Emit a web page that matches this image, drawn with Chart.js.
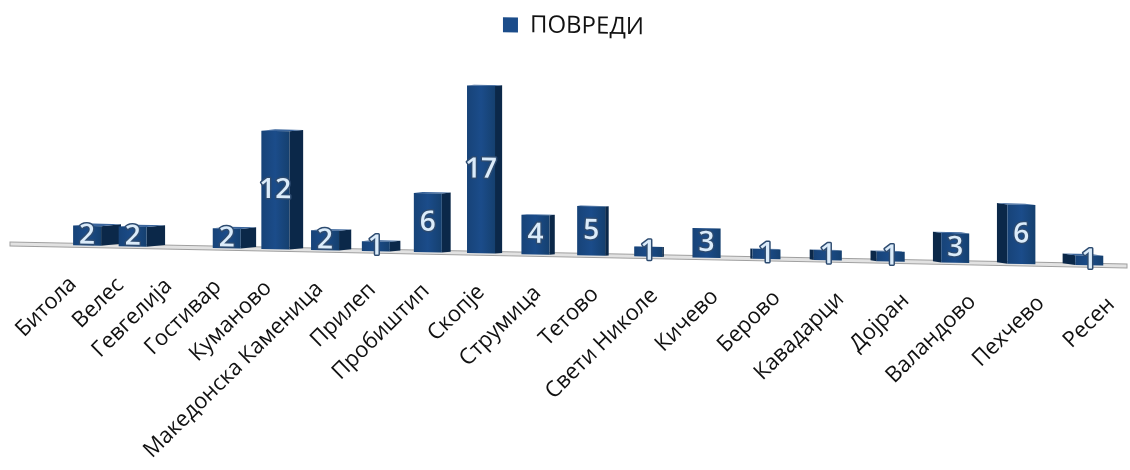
<!DOCTYPE html>
<html>
<head>
<meta charset="utf-8">
<title>ПОВРЕДИ</title>
<script src="https://cdn.jsdelivr.net/npm/chart.js@4.4.1/dist/chart.umd.min.js"></script>
<style>
  html, body { margin: 0; padding: 0; background: #ffffff; }
  #wrap { width: 1130px; height: 470px; }
</style>
</head>
<body>
<div id="wrap"><canvas id="myChart" width="1130" height="470"></canvas></div>
<script>
// data
var cities = ['Битола', 'Велес', 'Гевгелија', 'Гостивар', 'Куманово', 'Македонска Каменица',
              'Прилеп', 'Пробиштип', 'Скопје', 'Струмица', 'Тетово', 'Свети Николе',
              'Кичево', 'Берово', 'Кавадарци', 'Дојран', 'Валандово', 'Пехчево', 'Ресен'];
var injuries = [2, 2, null, 2, 12, 2, 1, 6, 17, 4, 5, 1, 3, 1, 1, 1, 3, 6, 1];
var seriesName = 'ПОВРЕДИ';

var frontColor = '#1b4c8a';
var sideColor = '#0b2849';
var tilt = 0.0197;       // floor slope (fake perspective)
var vanish = 0.6;        // vanishing point, share of plot width
var depthRate = 0.033;   // side face depth per px from vanishing point

// category scale with a bit of perspective: slots get wider to the right
class PerspectiveScale extends Chart.CategoryScale {
    getPixelForDecimal(decimal) {
        var k = this.options.warp || 0;
        var w = decimal * (1 + k) / (1 + k * decimal);
        var px = super.getPixelForDecimal(w);
        var vp = this.left + (this.right - this.left) * vanish;
        return vp + (px - vp) * (this.options.spread || 1);
    }
}
PerspectiveScale.id = 'perspective';
PerspectiveScale.defaults = Chart.CategoryScale.defaults;
Chart.register(PerspectiveScale);

// FUNCTION: shear the whole drawing so the floor runs downhill to the right
var tiltPlugin = {
    id: 'tilt',
    beforeDraw: function(chart) {
        var ctx = chart.ctx;
        ctx.save();
        ctx.transform(1, tilt, 0, 1, 0, -tilt * chart.width / 2);
    },
    afterDraw: function(chart) {
        chart.ctx.restore();
    }
};

// FUNCTION: draw floor, 3d boxes and value labels instead of flat bars
var boxPlugin = {
    id: 'box3d',
    beforeDatasetsDraw: function(chart) {
        var ctx = chart.ctx;
        var area = chart.chartArea;
        var vx = area.left + (area.right - area.left) * vanish;

        // floor plate
        ctx.save();
        ctx.fillStyle = '#e2e2e2';
        ctx.strokeStyle = '#a0a0a0';
        ctx.lineWidth = 1;
        ctx.beginPath();
        ctx.moveTo(area.left - 65, area.bottom - 2);
        ctx.lineTo(area.right + 10, area.bottom - 2);
        ctx.lineTo(area.right + 10, area.bottom + 2);
        ctx.lineTo(area.left - 65, area.bottom + 2);
        ctx.closePath();
        ctx.fill();
        ctx.stroke();

        var meta = chart.getDatasetMeta(0);
        var boxes = [];
        meta.data.forEach(function(bar, i) {
            if (injuries[i] == null) return;
            var p = bar.getProps(['x', 'y', 'base', 'width'], true);
            var d = (vx - p.x) * depthRate;
            var ad = Math.abs(d);
            var left = p.x - (p.width + ad) / 2;
            var fx = d > 0 ? left : left + ad;
            var sx0 = d > 0 ? left + p.width : left + ad;
            var sx1 = d > 0 ? left + p.width + ad : left;
            var lift = ad * 0.12;

            // side face
            ctx.fillStyle = sideColor;
            ctx.beginPath();
            ctx.moveTo(sx0, p.y);
            ctx.lineTo(sx1, p.y - lift);
            ctx.lineTo(sx1, p.base - lift);
            ctx.lineTo(sx0, p.base);
            ctx.closePath();
            ctx.fill();

            // top face
            ctx.fillStyle = '#3a659c';
            ctx.beginPath();
            ctx.moveTo(fx, p.y);
            ctx.lineTo(fx + p.width, p.y);
            ctx.lineTo(fx + p.width + (sx1 - sx0), p.y - lift);
            ctx.lineTo(fx + (sx1 - sx0), p.y - lift);
            ctx.closePath();
            ctx.fill();

            // front face
            var g = ctx.createLinearGradient(fx, 0, fx + p.width, 0);
            g.addColorStop(0, '#174378');
            g.addColorStop(0.5, frontColor);
            g.addColorStop(1, '#15406f');
            ctx.fillStyle = g;
            ctx.fillRect(fx, p.y, p.width, p.base - p.y);

            boxes.push({ x: fx + p.width / 2, y: (p.y + p.base) / 2, v: injuries[i] });
        });

        // value labels
        ctx.font = '600 28px "Open Sans"';
        ctx.textAlign = 'center';
        ctx.textBaseline = 'middle';
        ctx.lineJoin = 'round';
        boxes.forEach(function(b) {
            ctx.strokeStyle = '#2d4b70';
            ctx.lineWidth = 3;
            ctx.strokeText(String(b.v), b.x, b.y);
            ctx.fillStyle = '#dcecfa';
            ctx.fillText(String(b.v), b.x, b.y);
        });
        ctx.restore();
        return false;
    }
};

var ctx = document.getElementById('myChart').getContext('2d');

var chart = new Chart(ctx, {
    type: 'bar',
    data: {
        labels: cities,
        datasets: [{
            label: seriesName,
            data: injuries,
            backgroundColor: frontColor,
            borderWidth: 0,
            barThickness: 28,
            xAxisID: 'x'
        }]
    },
    options: {
        responsive: false,
        animation: false,
        layout: { padding: { left: 30, right: 13, top: 4, bottom: 0 } },
        plugins: {
            legend: {
                position: 'top',
                labels: {
                    color: '#111111',
                    font: { family: '"Open Sans"', size: 24 },
                    boxWidth: 15,
                    boxHeight: 15,
                    padding: 10
                }
            },
            tooltip: { enabled: false }
        },
        scales: {
            // bars sit on this one
            x: {
                type: 'perspective',
                warp: -0.2,
                offset: true,
                display: false
            },
            // city names, pushed a bit outwards like the front edge of the floor
            xl: {
                type: 'perspective',
                axis: 'x',
                position: 'bottom',
                warp: -0.2,
                spread: 1.053,
                offset: true,
                grid: { display: false, drawTicks: false },
                border: { display: false },
                ticks: {
                    color: '#111111',
                    font: { family: '"Open Sans"', size: 22 },
                    minRotation: 45,
                    maxRotation: 45,
                    autoSkip: false,
                    padding: 26,
                    labelOffset: 8
                },
                afterFit: function(scale) {
                    scale.height = 215;
                    scale.paddingLeft = 75;
                    scale.paddingRight = 13;
                }
            },
            y: {
                display: false,
                min: 0,
                max: 21
            }
        }
    },
    plugins: [tiltPlugin, boxPlugin]
});
</script>
</body>
</html>
